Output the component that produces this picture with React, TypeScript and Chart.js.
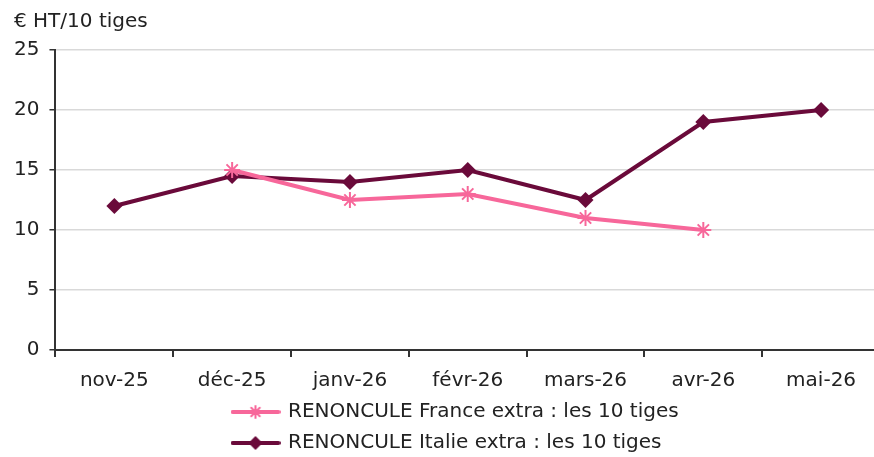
import React, { useEffect, useRef } from "react";
import { Chart, registerables } from "chart.js";

Chart.register(...registerables);

const categories = ["nov-25", "déc-25", "janv-26", "févr-26", "mars-26", "avr-26", "mai-26"];
const franceValues: (number | null)[] = [null, 15, 12.5, 13, 11, 10, null];
const italieValues: (number | null)[] = [12, 14.5, 14, 15, 12.5, 19, 20];
const yTicks = [0, 5, 10, 15, 20, 25];
const franceLabel = "RENONCULE France extra : les 10 tiges";
const italieLabel = "RENONCULE Italie extra : les 10 tiges";
const unitLabel = "€ HT/10 tiges";

const PINK = "#F7679A";
const MAROON = "#6A0A3A";
const FONT = "'DejaVu Sans', 'Noto Sans', sans-serif";

function makeLegendIcon(color: string, style: "star" | "diamond"): HTMLCanvasElement {
  const c = document.createElement("canvas");
  c.width = 50;
  c.height = 18;
  const ctx = c.getContext("2d")!;
  ctx.strokeStyle = color;
  ctx.fillStyle = color;
  ctx.lineWidth = 4;
  ctx.lineCap = "round";
  ctx.beginPath();
  ctx.moveTo(2, 9);
  ctx.lineTo(48, 9);
  ctx.stroke();
  const cx = 25, cy = 9;
  if (style === "diamond") {
    const r = 7;
    ctx.beginPath();
    ctx.moveTo(cx, cy - r);
    ctx.lineTo(cx + r, cy);
    ctx.lineTo(cx, cy + r);
    ctx.lineTo(cx - r, cy);
    ctx.closePath();
    ctx.fill();
  } else {
    const r = 6;
    ctx.lineWidth = 2;
    ctx.beginPath();
    for (let i = 0; i < 4; i++) {
      const a = (Math.PI / 4) * i;
      ctx.moveTo(cx - r * Math.cos(a), cy - r * Math.sin(a));
      ctx.lineTo(cx + r * Math.cos(a), cy + r * Math.sin(a));
    }
    ctx.stroke();
  }
  return c;
}

// Legend rows left-aligned as a block and the unit label nudged right, like the reference.
const shiftBlocks = {
  id: "shiftBlocks",
  beforeDraw(chart: any) {
    const lg = chart.legend;
    if (lg) {
      const w = lg.right - lg.left;
      lg.left = 222;
      lg.right = 222 + w;
    }
    const t = chart.titleBlock;
    if (t) {
      t.left = 14;
    }
  },
};

// The reference plot area runs slightly past the right edge of the picture.
const extendRight = {
  id: "extendRight",
  afterLayout(chart: any) {
    const right = chart.width + 6;
    const ca = chart.chartArea;
    ca.right = right;
    ca.width = right - ca.left;
    const x = chart.scales.x;
    x.right = right;
    x.width = right - x.left;
    x.configure();
  },
};

export default function App() {
  const ref = useRef<HTMLCanvasElement | null>(null);
  useEffect(() => {
    document.body.style.margin = "0";
    const icons = [makeLegendIcon(PINK, "star"), makeLegendIcon(MAROON, "diamond")];
    const chart = new Chart(ref.current!, {
      type: "line",
      data: {
        labels: categories,
        datasets: [
          {
            label: franceLabel,
            data: franceValues,
            borderColor: PINK,
            backgroundColor: PINK,
            borderWidth: 4,
            pointStyle: "star",
            pointRadius: 8,
            pointBorderWidth: 2,
            pointBorderColor: PINK,
            spanGaps: false,
            tension: 0,
          },
          {
            label: italieLabel,
            data: italieValues,
            borderColor: MAROON,
            backgroundColor: MAROON,
            borderWidth: 4,
            pointStyle: "rectRot",
            pointRadius: 8,
            pointBorderWidth: 0,
            tension: 0,
          },
        ],
      },
      options: {
        animation: false,
        responsive: true,
        maintainAspectRatio: false,
        layout: { padding: { left: 4, right: 0, top: 0, bottom: 0 } },
        scales: {
          x: {
            type: "category",
            offset: true,
            afterFit: (scale: any) => {
              scale.height = 41;
            },
            grid: {
              display: true,
              drawOnChartArea: false,
              drawTicks: true,
              tickLength: 7,
              offset: true,
              tickColor: "#333",
              lineWidth: 2,
            },
            border: { display: true, color: "#333", width: 2 },
            ticks: { color: "#222", font: { family: FONT, size: 20, lineHeight: 1.0 }, padding: 14, maxRotation: 0 },
          },
          y: {
            min: 0,
            max: 25,
            afterBuildTicks: (axis: any) => {
              axis.ticks = yTicks.map((v) => ({ value: v }));
            },
            grid: {
              color: "#d9d9d9",
              lineWidth: 1.5,
              drawTicks: true,
              tickLength: 6,
              tickColor: "#333",
            },
            border: { display: true, color: "#333", width: 2 },
            ticks: { color: "#222", font: { family: FONT, size: 20 }, padding: 10 },
          },
        },
        plugins: {
          title: {
            display: true,
            text: unitLabel,
            align: "start",
            color: "#222",
            font: { family: FONT, size: 20, weight: "normal" },
            padding: { top: 10, bottom: 16 },
          },
          legend: {
            display: true,
            position: "bottom",
            align: "start",
            maxHeight: 66,
            labels: {
              color: "#222",
              font: { family: FONT, size: 20 },
              usePointStyle: true,
              pointStyleWidth: 45,
              boxHeight: 18,
              padding: 11,
              generateLabels: (ch: any) =>
                ch.data.datasets.map((ds: any, i: number) => ({
                  text: ds.label,
                  pointStyle: icons[i],
                  fillStyle: ds.borderColor,
                  strokeStyle: ds.borderColor,
                  lineWidth: 0,
                  hidden: false,
                  datasetIndex: i,
                  fontColor: "#222",
                })),
            },
          },
          tooltip: { enabled: false },
        },
      },
      plugins: [shiftBlocks, extendRight],
    });
    return () => chart.destroy();
  }, []);
  return (
    <div style={{ position: "relative", width: 874, height: 457 }}>
      <canvas ref={ref} />
    </div>
  );
}
